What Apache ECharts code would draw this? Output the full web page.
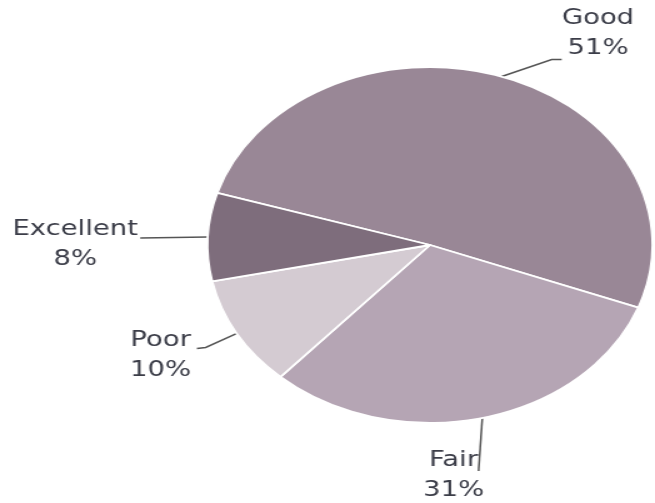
<!DOCTYPE html>
<html>
<head>
<meta charset="utf-8">
<script src="https://cdn.jsdelivr.net/npm/echarts@6/dist/echarts.min.js"></script>
<style>
  html, body { margin: 0; padding: 0; background: #fff; overflow: hidden; }
  /* the source picture is stretched sideways, so the whole chart is scaled on x */
  #chart { width: 524px; height: 503px; transform: scaleX(1.25); transform-origin: 0 0; }
</style>
</head>
<body>
<div id="chart"></div>
<script>
// data
var categories = ["Good", "Fair", "Poor", "Excellent"];
var shares = [51, 31, 10, 8];
var sliceColors = ["#998796", "#b5a5b4", "#d4cbd2", "#7e6d7c"];

// label offsets from the slice edge point (layout only)
var labelPlace = {
  Good:      { line: [[40, -17], [48, -17]], x: 77,  y: -73, align: "center" },
  Fair:      { line: [[-3, 53]],             x: -23, y: 27,  align: "center" },
  Poor:      { line: [[-25, 14], [-32, 15]], x: -61, y: -8,  align: "center" },
  Excellent: { line: [[-54, 1]],             x: -106, y: -23, align: "center" }
};

var chart = echarts.init(document.getElementById("chart"));

chart.setOption({
  animation: false,
  color: sliceColors,
  series: [
    {
      type: "pie",
      center: [344, 245],
      radius: 178,
      startAngle: 163,
      clockwise: true,
      avoidLabelOverlap: false,
      itemStyle: {
        borderColor: "#ffffff",
        borderWidth: 1.8
      },
      label: {
        show: true,
        position: "outside",
        formatter: "{t|{b}}\n{t|{d}%}",
        color: "#3b3d48",
        fontFamily: "DejaVu Sans",
        fontSize: 22,
        rich: {
          t: {
            align: "center",
            fontFamily: "DejaVu Sans",
            fontSize: 22,
            lineHeight: 30,
            color: "#3b3d48"
          }
        }
      },
      labelLine: {
        show: true,
        length: 20,
        length2: 20,
        lineStyle: { color: "#555555", width: 1.5 }
      },
      labelLayout: function (params) {
        var p = labelPlace[categories[params.dataIndex]];
        var start = params.labelLinePoints[0];
        var pts = [[start[0], start[1]]];
        p.line.forEach(function (d) {
          pts.push([start[0] + d[0], start[1] + d[1]]);
        });
        if (pts.length === 2) pts.push(pts[1].slice());
        return {
          x: start[0] + p.x,
          y: start[1] + p.y,
          align: p.align,
          verticalAlign: "top",
          labelLinePoints: pts
        };
      },
      data: categories.map(function (name, i) {
        return { name: name, value: shares[i] };
      })
    }
  ]
});
</script>
</body>
</html>
